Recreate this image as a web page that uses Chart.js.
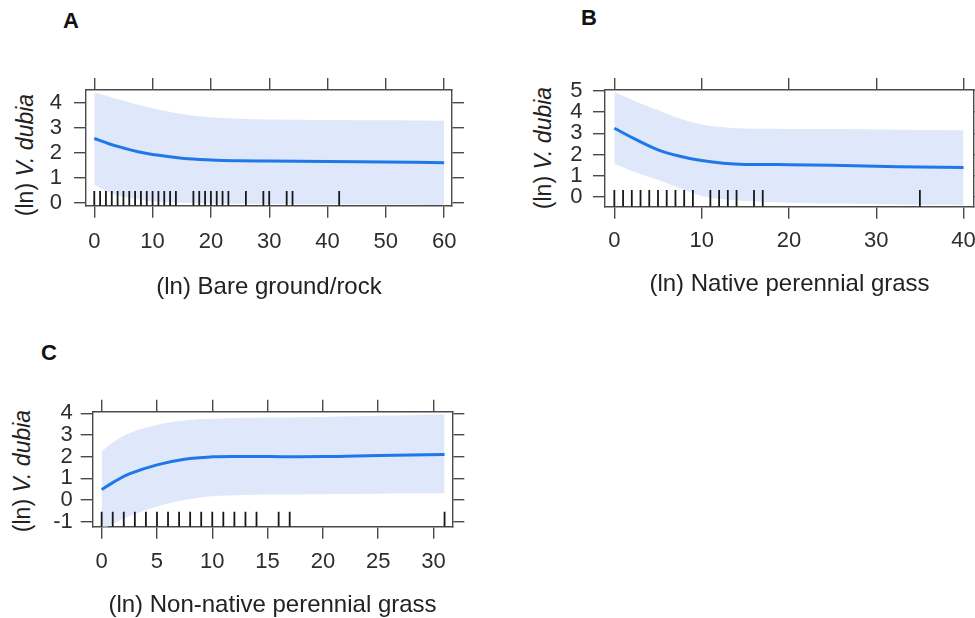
<!DOCTYPE html>
<html>
<head>
<meta charset="utf-8">
<script src="https://cdn.jsdelivr.net/npm/chart.js@4.4.1/dist/chart.umd.min.js"></script>
<style>
  html, body { margin: 0; padding: 0; background: #fff; overflow: hidden; }
  #page { position: relative; width: 975px; height: 618px; overflow: hidden; font-family: "Liberation Sans", Arial, sans-serif; }
  canvas { position: absolute; }
  .tag { position: absolute; font-weight: bold; font-size: 22px; color: #111; transform: translate(-50%, -50%); }
  .ytitle { position: absolute; font-size: 23px; color: #222; white-space: nowrap; transform: translate(-50%, -50%) rotate(-90deg); }
</style>
</head>
<body>
<div id="page">
  <div class="tag" style="left:71px;top:21px">A</div>
  <div class="tag" style="left:589px;top:18px">B</div>
  <div class="tag" style="left:49px;top:353px">C</div>

  <div class="ytitle" style="left:25px;top:155px">(ln) <i>V. dubia</i></div>
  <div class="ytitle" style="left:543px;top:148px">(ln) <i>V. dubia</i></div>
  <div class="ytitle" style="left:22px;top:471px">(ln) <i>V. dubia</i></div>

  <canvas id="chart-a" width="480" height="250" style="left:0;top:60px"></canvas>
  <canvas id="chart-b" width="510" height="250" style="left:490px;top:60px"></canvas>
  <canvas id="chart-c" width="480" height="240" style="left:0;top:380px"></canvas>
</div>

<script>
// Panel A - bare ground/rock
const xA     = [0, 2.5, 5, 7.5, 10, 15, 20, 25, 30, 40, 50, 60];
const fitA   = [2.57, 2.36, 2.19, 2.04, 1.93, 1.78, 1.71, 1.68, 1.67, 1.65, 1.63, 1.60];
const upperA = [4.42, 4.25, 4.08, 3.92, 3.78, 3.55, 3.42, 3.36, 3.33, 3.31, 3.30, 3.28];
const lowerA = [0.72, 0.42, 0.24, 0.13, 0.06, 0.00, -0.03, -0.04, -0.05, -0.06, -0.07, -0.08];
const rugA   = [0, 1, 2, 3, 4, 5, 6, 7, 8, 9, 10, 11, 12, 13, 14, 17, 18, 19, 20, 21, 22, 23, 26, 29, 30, 33, 34, 42];
const xTicksA = [0, 10, 20, 30, 40, 50, 60];
const yTicksA = [0, 1, 2, 3, 4];

// Panel B - native perennial grass
const xB     = [0, 2.5, 5, 7.5, 10, 12.5, 15, 20, 25, 30, 35, 40];
const fitB   = [3.24, 2.70, 2.22, 1.92, 1.72, 1.59, 1.53, 1.52, 1.49, 1.44, 1.41, 1.39];
const upperB = [4.95, 4.50, 4.10, 3.70, 3.42, 3.29, 3.23, 3.21, 3.20, 3.18, 3.16, 3.15];
const lowerB = [1.55, 1.15, 0.80, 0.40, 0.04, -0.12, -0.20, -0.28, -0.32, -0.35, -0.38, -0.40];
const rugB   = [0, 1, 2, 3, 4, 5, 6, 7, 8, 9, 11, 12, 13, 14, 16, 17, 35];
const xTicksB = [0, 10, 20, 30, 40];
const yTicksB = [0, 1, 2, 3, 4, 5];

// Panel C - non-native perennial grass
const xC     = [0, 1, 2.5, 5, 7.5, 10, 12.5, 15, 20, 25, 31];
const fitC   = [0.48, 0.80, 1.20, 1.62, 1.88, 1.99, 2.01, 2.00, 2.00, 2.05, 2.10];
const upperC = [2.23, 2.65, 3.08, 3.46, 3.66, 3.74, 3.78, 3.80, 3.83, 3.88, 3.94];
const lowerC = [-1.40, -1.10, -0.75, -0.30, 0.00, 0.17, 0.22, 0.25, 0.27, 0.29, 0.31];
const rugC   = [0, 1, 2, 3, 4, 5, 6, 7, 8, 9, 10, 11, 12, 13, 14, 16, 17, 31];
const xTicksC = [0, 5, 10, 15, 20, 25, 30];
const yTicksC = [-1, 0, 1, 2, 3, 4];

const LINE_COLOR = "#1f78e8";
const BAND_COLOR = "#dfe8fb";
const AXIS_COLOR = "#4a4a4a";
const TEXT_COLOR = "#2e2e2e";
const FONT_FAMILY = "'Liberation Sans', Arial, sans-serif";

function pts(xs, ys) {
  return xs.map((x, i) => ({ x: x, y: ys[i] }));
}

function buildPanel(id, p) {
  const canvas = document.getElementById(id);
  if (!canvas) return;

  // rug: one short vertical segment per observation, broken by null gaps
  const rugData = p.rug.flatMap(v => [{ x: v, y: p.yMin }, { x: v, y: p.rugTop }, { x: v, y: null }]);

  const grid = { drawOnChartArea: false, drawTicks: true, tickLength: 12, color: AXIS_COLOR, lineWidth: 1.4 };
  const border = { display: true, color: AXIS_COLOR, width: 1.4 };
  const tickFont = { family: FONT_FAMILY, size: 22 };
  const fixTicks = vals => s => { s.ticks = vals.map(v => ({ value: v })); };

  new Chart(canvas.getContext("2d"), {
    type: "line",
    data: {
      datasets: [
        { data: pts(p.x, p.fit), borderColor: LINE_COLOR, borderWidth: 3, pointRadius: 0, tension: 0.4, fill: false },
        { data: rugData, borderColor: "#181818", borderWidth: 1.8, pointRadius: 0, spanGaps: false, fill: false },
        { data: pts(p.x, p.upper), borderColor: "transparent", borderWidth: 0, pointRadius: 0, tension: 0.4, backgroundColor: BAND_COLOR, fill: "+1" },
        { data: pts(p.x, p.lower), borderColor: "transparent", borderWidth: 0, pointRadius: 0, tension: 0.4, fill: false }
      ]
    },
    options: {
      responsive: false,
      animation: false,
      layout: { padding: 0, autoPadding: false },
      plugins: { legend: { display: false }, tooltip: { enabled: false } },
      scales: {
        x: {
          type: "linear", position: "bottom", min: p.xMin, max: p.xMax, z: 1,
          afterBuildTicks: fixTicks(p.xTicks),
          afterFit: s => { s.height = p.box.bottom; },
          grid: grid, border: border,
          ticks: { font: tickFont, color: TEXT_COLOR, padding: p.xPad, maxRotation: 0, autoSkip: false },
          title: { display: true, text: p.xTitle, color: "#222", font: { family: FONT_FAMILY, size: 24 }, padding: { top: 0, bottom: p.titlePad } }
        },
        x2: {
          type: "linear", axis: "x", position: "top", min: p.xMin, max: p.xMax, z: 1,
          afterBuildTicks: fixTicks(p.xTicks),
          afterFit: s => { s.height = p.box.top; },
          grid: grid, border: border,
          ticks: { display: false }
        },
        y: {
          type: "linear", position: "left", min: p.yMin, max: p.yMax, z: 1,
          afterBuildTicks: fixTicks(p.yTicks),
          afterFit: s => { s.width = p.box.left; },
          grid: grid, border: border,
          ticks: { font: tickFont, color: TEXT_COLOR, padding: p.yPad, autoSkip: false }
        },
        y2: {
          type: "linear", axis: "y", position: "right", min: p.yMin, max: p.yMax, z: 1,
          afterBuildTicks: fixTicks(p.yTicks),
          afterFit: s => { s.width = p.box.right; },
          grid: grid, border: border,
          ticks: { display: false }
        }
      }
    }
  });
}

buildPanel("chart-a", {
  x: xA, fit: fitA, upper: upperA, lower: lowerA, rug: rugA,
  xTicks: xTicksA, yTicks: yTicksA,
  xMin: -1.42, xMax: 61.35, yMin: -0.12, yMax: 4.51, rugTop: 0.47,
  xTitle: "(ln) Bare ground/rock",
  box: { left: 86, top: 30, right: 28, bottom: 104.3 },
  xPad: 11, yPad: 12, titlePad: 8.6
});

buildPanel("chart-b", {
  x: xB, fit: fitB, upper: upperB, lower: lowerB, rug: rugB,
  xTicks: xTicksB, yTicks: yTicksB,
  xMin: -1.07, xMax: 41.2, yMin: -0.47, yMax: 5.05, rugTop: 0.32,
  xTitle: "(ln) Native perennial grass",
  box: { left: 115, top: 30, right: 26, bottom: 103.3 },
  xPad: 9.3, yPad: 10.5, titlePad: 11.6
});

buildPanel("chart-c", {
  x: xC, fit: fitC, upper: upperC, lower: lowerC, rug: rugC,
  xTicks: xTicksC, yTicks: yTicksC,
  xMin: -0.81, xMax: 31.7, yMin: -1.23, yMax: 4.07, rugTop: -0.54,
  xTitle: "(ln) Non-native perennial grass",
  box: { left: 92.7, top: 31.7, right: 27.7, bottom: 93.3 },
  xPad: 9.6, yPad: 8, titlePad: 0.6
});
</script>
</body>
</html>
